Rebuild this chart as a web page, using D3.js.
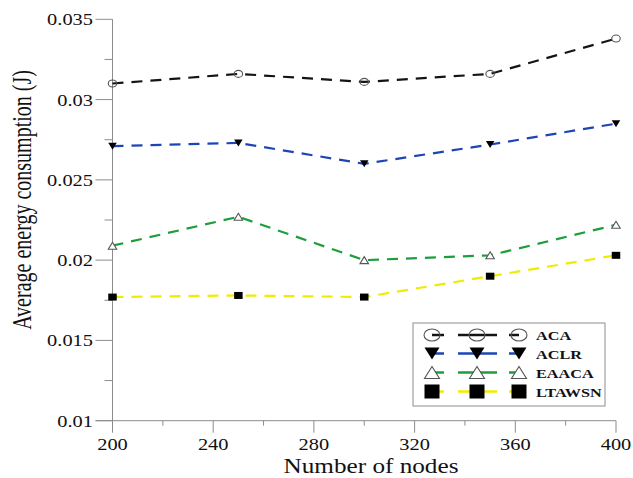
<!doctype html>
<html lang="en">
<head>
<meta charset="utf-8">
<title>Average energy consumption</title>
<script src="https://cdn.jsdelivr.net/npm/d3@7/dist/d3.min.js"></script>
<style>
html, body { margin: 0; padding: 0; background: #fff; }
svg text { font-family: "Liberation Serif", "Times New Roman", serif; fill: #111; }
</style>
</head>
<body>
<svg id="chart" width="633" height="478"></svg>
<script>
// data
const nodes = [200, 250, 300, 350, 400];
const aca    = [0.0310, 0.0316, 0.0311, 0.0316, 0.0338];
const aclr   = [0.0271, 0.0273, 0.0260, 0.0272, 0.0285];
const eaaca  = [0.0209, 0.0227, 0.0200, 0.0203, 0.0222];
const ltawsn = [0.0177, 0.0178, 0.0177, 0.0190, 0.0203];
const seriesNames = ["ACA", "ACLR", "EAACA", "LTAWSN"];
const xTicks = [200, 240, 280, 320, 360, 400];
const yTicks = [0.01, 0.015, 0.02, 0.025, 0.03, 0.035];
const yTickLabels = ["0.01", "0.015", "0.02", "0.025", "0.03", "0.035"];

const series = [
  {name: seriesNames[0], values: aca,    color: "#141414", marker: "circle"},
  {name: seriesNames[1], values: aclr,   color: "#1d45b5", marker: "down"},
  {name: seriesNames[2], values: eaaca,  color: "#1c9e3c", marker: "up"},
  {name: seriesNames[3], values: ltawsn, color: "#f0ec00", marker: "square"}
];

const axisColor = "#8c8c8c";
const stretch = 1.2; // the picture's text looks stretched sideways

const svg = d3.select("#chart");
const x = d3.scaleLinear().domain([200, 400]).range([112.5, 616]);
const y = d3.scaleLinear().domain([0.01, 0.035]).range([420.7, 19.3]);

// text helper, horizontally stretched
function label(g, tx, ty, str, size, anchor) {
  return g.append("text")
    .attr("transform", `translate(${tx},${ty}) scale(${stretch},1)`)
    .attr("text-anchor", anchor)
    .style("font-size", size + "px")
    .text(str);
}

// axes
const axes = svg.append("g");
axes.append("line").attr("x1", x(200)).attr("x2", x(200))
  .attr("y1", y(0.035)).attr("y2", y(0.01) + 12)
  .attr("stroke", axisColor);
// y ticks: major long, minor short, pointing left
d3.range(0, 11).forEach(i => {
  const v = 0.01 + i * 0.0025;
  const major = i % 2 === 0;
  axes.append("line")
    .attr("x1", x(200) - (major ? 17 : 8)).attr("x2", x(200))
    .attr("y1", y(v)).attr("y2", y(v))
    .attr("stroke", axisColor);
});
// x axis: ticks pointing down
axes.append("line").attr("x1", x(200) - 17).attr("x2", x(400))
  .attr("y1", y(0.01)).attr("y2", y(0.01)).attr("stroke", axisColor);
d3.range(220, 401, 20).forEach(v => {
  const major = (v - 200) % 40 === 0;
  axes.append("line")
    .attr("x1", x(v)).attr("x2", x(v))
    .attr("y1", y(0.01)).attr("y2", y(0.01) + (major ? 12 : 5))
    .attr("stroke", axisColor);
});

yTicks.forEach((v, i) => {
  label(svg, 93, y(v) + 6, yTickLabels[i], 17, "end");
});
xTicks.forEach(v => {
  label(svg, x(v), 450, String(v), 17, "middle");
});

// axis titles
label(svg, 371, 473, "Number of nodes", 21, "middle");
svg.append("text")
  .attr("transform", `translate(31,200) rotate(-90) scale(1,1.4)`)
  .attr("text-anchor", "middle")
  .style("font-size", "20px")
  .text("Average energy consumption (J)");

// markers
function drawMarker(g, kind, cx, cy, w, h) {
  if (kind === "circle") {
    g.append("ellipse").attr("cx", cx).attr("cy", cy).attr("rx", w / 2).attr("ry", h / 2)
      .attr("fill", "none").attr("stroke", "#555").attr("stroke-width", 1.1);
  } else if (kind === "down") {
    g.append("path")
      .attr("d", `M${cx - w / 2},${cy - h / 2}L${cx + w / 2},${cy - h / 2}L${cx},${cy + h / 2}Z`)
      .attr("fill", "#000");
  } else if (kind === "up") {
    g.append("path")
      .attr("d", `M${cx - w / 2},${cy + h / 2}L${cx + w / 2},${cy + h / 2}L${cx},${cy - h / 2}Z`)
      .attr("fill", "#fff").attr("stroke", "#555").attr("stroke-width", 1.1);
  } else {
    g.append("rect").attr("x", cx - w / 2).attr("y", cy - h / 2)
      .attr("width", w).attr("height", h).attr("fill", "#000");
  }
}

const line = d3.line().x(d => x(d[0])).y(d => y(d[1]));
const plot = svg.append("g");
series.forEach(s => {
  const pts = nodes.map((n, i) => [n, s.values[i]]);
  plot.append("path").datum(pts)
    .attr("d", line)
    .attr("fill", "none")
    .attr("stroke", s.color)
    .attr("stroke-width", 2.2)
    .attr("stroke-dasharray", "11,8");
});
series.forEach(s => {
  nodes.forEach((n, i) => {
    drawMarker(plot, s.marker, x(n), y(s.values[i]), 8.5, 7);
  });
});

// legend
const leg = svg.append("g");
leg.append("rect").attr("x", 413).attr("y", 323).attr("width", 192).attr("height", 83)
  .attr("fill", "#fff").attr("stroke", axisColor);
const rowY = [335, 353.5, 372.5, 391.5];
series.forEach((s, i) => {
  const cy = rowY[i];
  [[432, 444], [458, 497], [509, 519]].forEach(seg => {
    leg.append("line").attr("x1", seg[0]).attr("x2", seg[1])
      .attr("y1", cy).attr("y2", cy)
      .attr("stroke", s.color).attr("stroke-width", 2.5);
  });
  [432, 477, 519].forEach(cx => {
    const w = s.marker === "circle" ? 16 : 15;
    const h = s.marker === "square" ? 14 : 12;
    drawMarker(leg, s.marker, cx, cy, w, h);
  });
  label(leg, 536, cy + 5, s.name, 13.5, "start").style("font-weight", "bold");
});
</script>
</body>
</html>
